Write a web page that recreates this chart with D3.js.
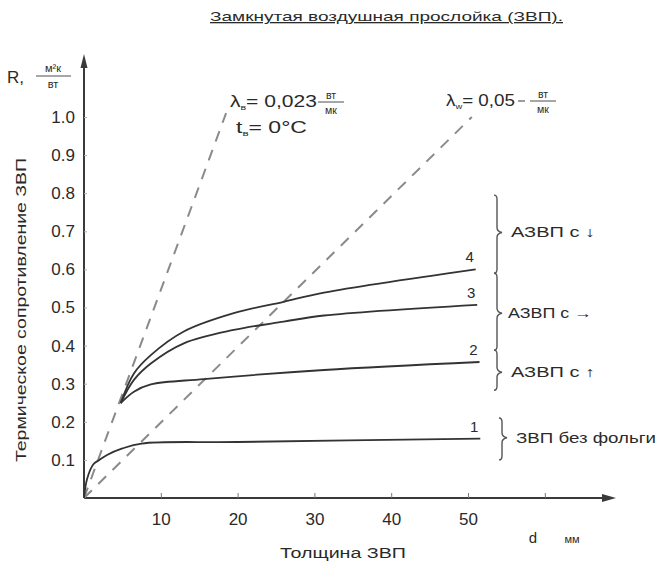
<!DOCTYPE html>
<html>
<head>
<meta charset="utf-8">
<script src="https://cdn.jsdelivr.net/npm/d3@7"></script>
<style>
  body { margin: 0; background: #fff; }
  svg text { font-family: "Liberation Sans", Arial, sans-serif; fill: #2a2a2a; }
</style>
</head>
<body>
<svg id="chart" width="659" height="563"></svg>
<script>
// values: d in mm, R in m2K/W
var xTicks = [10, 20, 30, 40, 50, 60];
var xLabels = ["10", "20", "30", "40", "50"];
var yTicks = [0.1, 0.2, 0.3, 0.4, 0.5, 0.6, 0.7, 0.8, 0.9, 1.0];

var curve1 = [[0, 0], [0.4, 0.05], [1.2, 0.088], [2, 0.1], [3, 0.113], [5, 0.13], [7.5, 0.143], [20, 0.147], [51.6, 0.156]];
var curve2 = [[4.77, 0.249], [6.5, 0.279], [8.7, 0.298], [15.6, 0.312], [31.25, 0.336], [51.5, 0.357]];
var curve3 = [[4.77, 0.249], [6.5, 0.31], [8.7, 0.353], [13, 0.406], [19.5, 0.441], [26, 0.463], [31.25, 0.479], [51.2, 0.507]];
var curve4 = [[4.77, 0.249], [6.5, 0.327], [8.7, 0.375], [13, 0.437], [19.5, 0.485], [26, 0.515], [31.25, 0.539], [51, 0.6]];
var curveNames = ["1", "2", "3", "4"];

var dash1 = [[0, 0], [18.5, 1.01]];
var dash2 = [[0, 0], [50.5, 1.0]];

// braces on the right: [top R, bottom R, tip R]
var braces = [[0.795, 0.59, 0.697], [0.59, 0.388, 0.485], [0.388, 0.283, 0.33], [0.21, 0.1, 0.158]];
var braceLabels = ["АЗВП с \u2193", "АЗВП с \u2192", "АЗВП с \u2191", "ЗВП без фольги"];

var svg = d3.select("#chart");
var x = d3.scaleLinear().domain([0, 50]).range([84, 468]);
var y = d3.scaleLinear().domain([0, 1]).range([498, 117]);
var ink = "#3a3a3a";

// title
svg.append("text")
	.attr("x", 210).attr("y", 21)
	.attr("textLength", 353).attr("lengthAdjust", "spacingAndGlyphs")
	.style("font-size", "13px")
	.style("text-decoration", "underline")
	.text("Замкнутая воздушная прослойка (ЗВП).");

// axes lines with arrows
svg.append("line").attr("x1", x(0)).attr("y1", y(0)).attr("x2", 610).attr("y2", y(0))
	.attr("stroke", ink).attr("stroke-width", 2);
svg.append("path").attr("d", "M616," + y(0) + " l-14,-4 l0,8 z").attr("fill", ink);
svg.append("line").attr("x1", x(0)).attr("y1", y(0)).attr("x2", x(0)).attr("y2", 62)
	.attr("stroke", ink).attr("stroke-width", 2);
svg.append("path").attr("d", "M" + x(0) + ",54 l-3.5,14 l7,0 z").attr("fill", ink);

var xAxis = svg.append("g")
	.attr("transform", "translate(0," + y(0) + ")")
	.call(d3.axisBottom(x).tickValues(xTicks).tickSize(-5).tickPadding(15)
		.tickFormat(function(d) { return xLabels.indexOf(String(d)) >= 0 ? String(d) : ""; }));
xAxis.select(".domain").remove();
xAxis.selectAll("line").attr("stroke", "#777");
xAxis.selectAll("text").style("font-size", "17px").style("font-family", "Liberation Sans, Arial, sans-serif").attr("fill", "#2a2a2a");

var yAxis = svg.append("g")
	.attr("transform", "translate(" + x(0) + ",0)")
	.call(d3.axisLeft(y).tickValues(yTicks).tickSize(-3).tickPadding(9).tickFormat(d3.format(".1f")));
yAxis.select(".domain").remove();
yAxis.selectAll("line").attr("stroke", "#aaa");
yAxis.selectAll("text").style("font-size", "17px").style("font-family", "Liberation Sans, Arial, sans-serif").attr("fill", "#2a2a2a");

// axis units and titles
svg.append("text").attr("x", 7).attr("y", 83).style("font-size", "17px").text("R,");
svg.append("text").attr("x", 53).attr("y", 72).attr("text-anchor", "middle").style("font-size", "11px").text("м²к");
svg.append("line").attr("x1", 36).attr("x2", 71).attr("y1", 76).attr("y2", 76).attr("stroke", ink).attr("stroke-width", 0.9);
svg.append("text").attr("x", 53).attr("y", 88).attr("text-anchor", "middle").style("font-size", "11px").text("вт");

svg.append("text")
	.attr("transform", "translate(26,462) rotate(-90)")
	.attr("textLength", 304).attr("lengthAdjust", "spacingAndGlyphs")
	.style("font-size", "14px")
	.text("Термическое сопротивление ЗВП");

svg.append("text").attr("x", 280).attr("y", 558)
	.attr("textLength", 126).attr("lengthAdjust", "spacingAndGlyphs")
	.style("font-size", "14px").text("Толщина ЗВП");
svg.append("text").attr("x", 533).attr("y", 543).attr("text-anchor", "middle").style("font-size", "15px").text("d");
svg.append("text").attr("x", 572).attr("y", 543).attr("text-anchor", "middle").style("font-size", "11px").text("мм");

// dashed lambda lines
var line = d3.line().x(function(d) { return x(d[0]); }).y(function(d) { return y(d[1]); });
[dash1, dash2].forEach(function(d) {
	svg.append("path").attr("d", line(d))
		.attr("fill", "none").attr("stroke", "#8a8a8a").attr("stroke-width", 2)
		.attr("stroke-dasharray", "11,9");
});

// lambda annotations
function lambdaLabel(px, py, sub, val, endX, dashFrac) {
	var g = svg.append("g").attr("transform", "translate(" + px + "," + py + ")");
	var t = g.append("text").style("font-size", "16px");
	t.append("tspan").text("λ");
	t.append("tspan").attr("dy", 3).style("font-size", "8px").text(sub);
	t.append("tspan").attr("dy", -3).text("= " + val);
	var w = t.node().getComputedTextLength();
	t.attr("transform", "scale(" + ((endX - px) / w) + ",1)");
	var fx = endX + (dashFrac ? 28 : 14);
	if (dashFrac) {
		svg.append("line").attr("x1", endX + 3).attr("x2", endX + 10).attr("y1", py - 5).attr("y2", py - 5).attr("stroke", ink);
	}
	svg.append("text").attr("x", fx).attr("y", py - 8).attr("text-anchor", "middle").style("font-size", "10.5px").text("вт");
	svg.append("line").attr("x1", fx - 13).attr("x2", fx + 13).attr("y1", py - 5).attr("y2", py - 5).attr("stroke", ink).attr("stroke-width", 0.9);
	svg.append("text").attr("x", fx).attr("y", py + 7).attr("text-anchor", "middle").style("font-size", "10.5px").text("мк");
}
lambdaLabel(230, 107, "в", "0,023", 317, false);
lambdaLabel(446, 106, "w", "0,05", 515, true);
var tg = svg.append("g").attr("transform", "translate(236,133)");
var tl = tg.append("text").style("font-size", "16px");
tl.append("tspan").text("t");
tl.append("tspan").attr("dy", 3).style("font-size", "8px").text("в");
tl.append("tspan").attr("dy", -3).text("= 0°C");
tl.attr("transform", "scale(" + (71 / tl.node().getComputedTextLength()) + ",1)");

// curves
var smooth = d3.line().x(function(d) { return x(d[0]); }).y(function(d) { return y(d[1]); }).curve(d3.curveCatmullRom.alpha(0.5));
[curve1, curve2, curve3, curve4].forEach(function(c, i) {
	svg.append("path").attr("d", smooth(c))
		.attr("fill", "none").attr("stroke", "#333").attr("stroke-width", 1.8);
	var last = c[c.length - 1];
	svg.append("text")
		.attr("x", x(last[0]) - 6).attr("y", y(last[1]) - 7)
		.attr("text-anchor", "middle")
		.style("font-size", "15px")
		.text(curveNames[i]);
});

// braces
braces.forEach(function(b, i) {
	var top = y(b[0]), bot = y(b[1]), tip = y(b[2]);
	var xx = i == 3 ? 502 : 497;
	var p = "M" + (xx - 3) + "," + top + " q3,0 3,4 L" + xx + "," + (tip - 5) +
		" q0,4 5,5 q-5,1 -5,5 L" + xx + "," + (bot - 4) + " q0,4 -3,4";
	svg.append("path").attr("d", p).attr("fill", "none").attr("stroke", "#555").attr("stroke-width", 1.4);
	var lbl = svg.append("text")
		.attr("x", xx + (i == 1 ? 11 : 14)).attr("y", tip + 5)
		.style("font-size", "14px")
		.text(braceLabels[i]);
	lbl.attr("textLength", i == 3 ? 140 : 84).attr("lengthAdjust", "spacingAndGlyphs");
});
</script>
</body>
</html>
